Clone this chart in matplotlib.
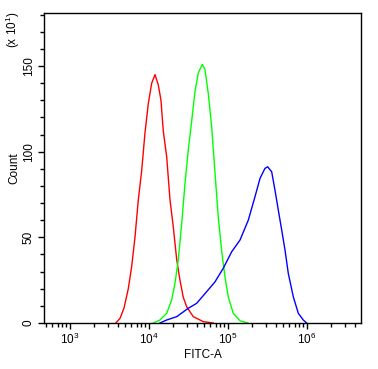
import matplotlib
matplotlib.use("Agg")
import matplotlib.pyplot as plt
from matplotlib.ticker import LogLocator, MultipleLocator, NullFormatter

plt.rcParams['font.family'] = ['Liberation Sans', 'DejaVu Sans']
plt.rcParams['mathtext.fontset'] = 'custom'
plt.rcParams['mathtext.rm'] = 'Liberation Sans'
plt.rcParams['mathtext.it'] = 'Liberation Sans'

# Histogram outlines (FITC-A value, count)
red_x = [3800, 4300, 4830, 5470, 6040, 6650, 7330, 8090, 8900, 9800, 10820,
         11920, 13120, 14190, 15180, 16760, 18450, 20320, 22440, 24680,
         27180, 29980, 36370, 48670, 65150]
red_y = [0, 2.7, 8.7, 20, 33, 50, 72, 89, 111, 128, 140, 145, 139, 130, 112,
         97, 72, 56, 37, 25, 15, 9.5, 3.7, 0.8, 0]

green_x = [11320, 13770, 16760, 19360, 21330, 23500, 25960, 28570, 31440,
           34740, 38220, 42080, 47300, 51170, 56340, 62190, 68440, 75340,
           83250, 91570, 100900, 116700, 141900, 179200]
green_y = [0, 1.75, 5.7, 13.4, 23, 37, 58, 81.5, 101, 118, 135, 146, 151, 148,
           134, 114.5, 88, 62, 42, 27, 15.3, 5.7, 1.3, 0]

blue_x = [13770, 16760, 22440, 31440, 40150, 53740, 68440, 87260, 111400,
          141900, 180700, 219700, 254300, 293900, 318400, 357500, 393500,
          433400, 478800, 527200, 580000, 671400, 776300, 897900, 991000]
blue_y = [0, 1.75, 3.7, 8.6, 11.5, 18.3, 24, 32, 41.6, 48.4, 60, 73.7, 84.4,
          90.3, 91.2, 88.3, 77.6, 66, 54.3, 42.6, 29, 15.3, 5.7, 1.75, 0]

fig = plt.figure(figsize=(3.78, 3.69), dpi=100)
ax = fig.add_axes([44 / 378, 1 - 323 / 369, 317 / 378, 310 / 369])

ax.plot(red_x, red_y, color='#ff0000', lw=1)
ax.plot(green_x, green_y, color='#00ff00', lw=1)
ax.plot(blue_x, blue_y, color='#0000ff', lw=1)

ax.set_xscale('log')
ax.set_xlim(469, 4.83e6)
ax.set_ylim(0, 181)

ax.xaxis.set_major_locator(LogLocator(base=10, numticks=10))
ax.xaxis.set_minor_locator(LogLocator(base=10, subs=range(2, 10), numticks=20))
ax.xaxis.set_minor_formatter(NullFormatter())
ax.yaxis.set_major_locator(MultipleLocator(50))
ax.yaxis.set_minor_locator(MultipleLocator(10))

ax.tick_params(which='both', direction='out', top=False, right=False,
               labelsize=8.5, width=1, colors='black', pad=2)
ax.tick_params(which='major', length=4.5)
ax.tick_params(which='minor', length=3)
for lab in ax.get_yticklabels():
    lab.set_rotation(90)
    lab.set_va('center')

for s in ax.spines.values():
    s.set_linewidth(1)
    s.set_color('black')

ax.set_xlabel('FITC-A', fontsize=8.5, labelpad=1)
ax.set_ylabel('Count', fontsize=8.5, labelpad=2)
fig.text(13 / 378, 1 - 30 / 369, '(x 10$^1$)', rotation=90, fontsize=8.5,
         ha='center', va='center')

fig.savefig('out.png', dpi=100)
